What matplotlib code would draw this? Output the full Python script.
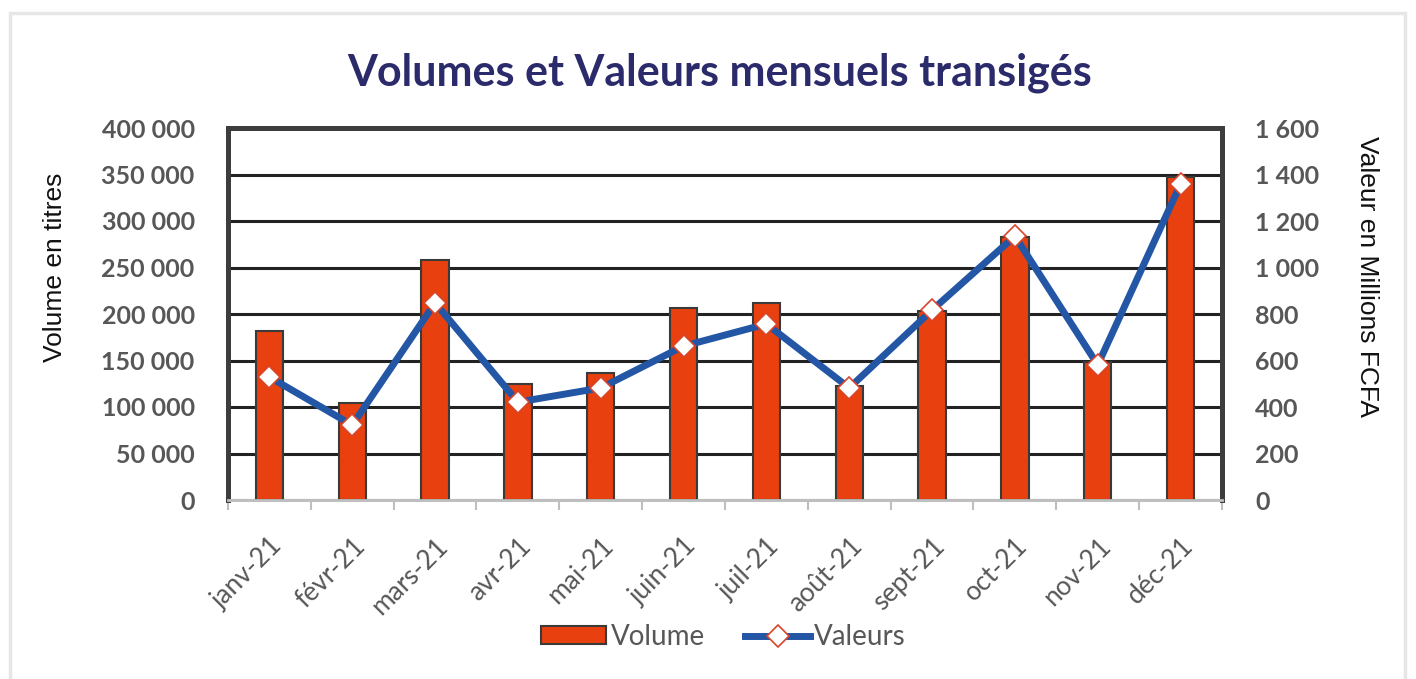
import matplotlib.pyplot as plt
import numpy as np
from matplotlib.ticker import FuncFormatter, MultipleLocator, FixedLocator

months = ['janv-21', 'févr-21', 'mars-21', 'avr-21', 'mai-21', 'juin-21',
          'juil-21', 'août-21', 'sept-21', 'oct-21', 'nov-21', 'déc-21']
volume = [182000, 104000, 258000, 125000, 136500, 206000,
          212000, 123000, 203000, 283000, 148000, 347000]
valeurs = [529, 322, 848, 421, 482, 662, 757, 482, 817, 1135, 581, 1359]

plt.rcParams['font.family'] = ['Lato', 'DejaVu Sans']

fig = plt.figure(figsize=(14.16, 6.79), dpi=100)
# light outer frame
fig.patches.append(plt.Rectangle((10 / 1416, -0.05), 1395 / 1416, 1.05 - 13 / 679,
                                 transform=fig.transFigure, fill=False,
                                 edgecolor='#e6e6e6', linewidth=2.5))

ax = fig.add_axes([228 / 1416, 1 - 500 / 679, 994 / 1416, 372 / 679])
ax2 = ax.twinx()

x = np.arange(len(months))
ax.bar(x, volume, width=0.33, color='#e8400f', edgecolor='#3a3a3a',
       linewidth=1.5, zorder=3, label='Volume')
ax.set_xlim(-0.5, len(months) - 0.5)
ax.set_ylim(0, 400000)
ax.yaxis.set_major_locator(MultipleLocator(50000))
ax.yaxis.set_major_formatter(FuncFormatter(lambda v, p: f'{int(v):,}'.replace(',', ' ')))
ax.grid(axis='y', color='#222222', linewidth=2.2, zorder=0)
ax.set_axisbelow(True)

ax2.plot(x, valeurs, color='#2456a6', linewidth=5, marker='D', markersize=11,
         markerfacecolor='white', markeredgecolor='#d9452a', markeredgewidth=1.2,
         zorder=4, label='Valeurs')
ax2.set_ylim(0, 1600)
ax2.yaxis.set_major_locator(MultipleLocator(200))
ax2.yaxis.set_major_formatter(FuncFormatter(lambda v, p: f'{int(v):,}'.replace(',', ' ')))

for a in (ax, ax2):
    for s in ('left', 'right', 'top'):
        a.spines[s].set_color('#3d3d3d')
        a.spines[s].set_linewidth(3.5)
    a.spines['bottom'].set_color('#bfbfbf')
    a.spines['bottom'].set_linewidth(2)
    a.tick_params(axis='y', length=0, labelsize=18, labelcolor='#575757', pad=24)

for lab in ax.get_yticklabels() + ax2.get_yticklabels():
    lab.set_fontweight('bold')

ax.set_xticks(x)
ax.set_xticklabels(months, rotation=45, ha='right', rotation_mode='anchor',
                   fontsize=19, color='#575757')
ax.tick_params(axis='x', length=0, pad=24)
ax.xaxis.set_minor_locator(FixedLocator(np.arange(-0.5, len(months), 1.0)))
ax.tick_params(axis='x', which='minor', length=7, color='#bfbfbf', width=1.5)

ax.set_ylabel('Volume en titres', fontsize=19, color='#111111',
              va='center', family=['Liberation Sans', 'DejaVu Sans'])
ax.yaxis.set_label_coords(-0.174, 0.626)
ax2.set_ylabel('Valeur en Millions FCFA', fontsize=19, color='#111111',
               rotation=-90, va='center', family=['Liberation Sans', 'DejaVu Sans'])
ax2.yaxis.set_label_coords(1.146, 0.60)

fig.text(0.508, 0.893, 'Volumes et Valeurs mensuels transigés', ha='center',
         va='center', fontsize=31, fontweight='bold', color='#2b2a6b')

h1, l1 = ax.get_legend_handles_labels()
h2, l2 = ax2.get_legend_handles_labels()
fig.legend(h1 + h2, l1 + l2, loc='center', bbox_to_anchor=(0.511, 0.062),
           ncol=2, frameon=False, fontsize=20, handlelength=2.35,
           handleheight=0.6, handletextpad=0.15, columnspacing=1.45,
           labelcolor='#575757')

fig.savefig('out.png', dpi=100)
